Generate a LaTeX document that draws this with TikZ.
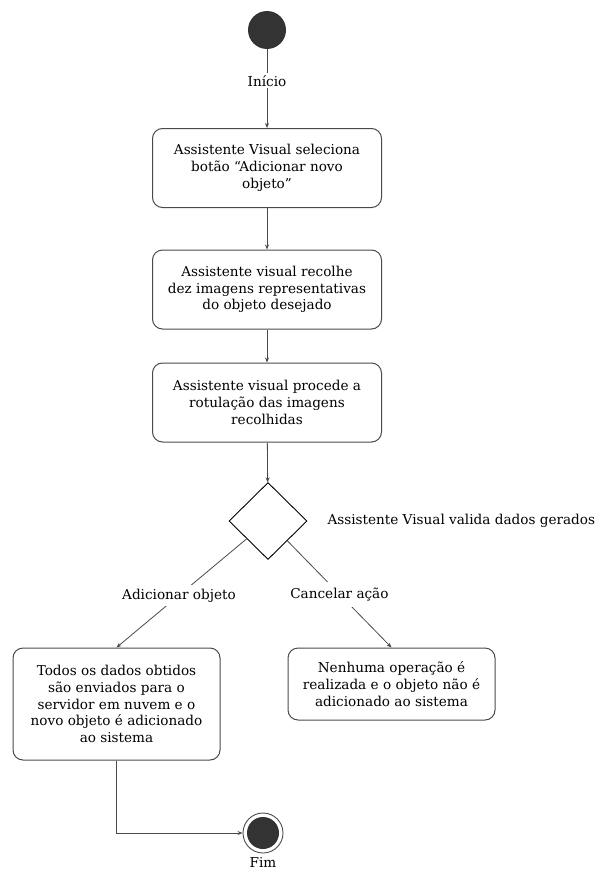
\documentclass[tikz,border=0pt]{standalone}
\usepackage{fontspec}
\setmainfont{DejaVu Serif}
\usetikzlibrary{shapes.geometric,arrows.meta}
\definecolor{linecol}{HTML}{4A4A4A}
\definecolor{dotcol}{HTML}{333333}
\begin{document}
\begin{tikzpicture}[x=1pt,y=-1pt,
  font=\fontsize{13.6}{16.8}\selectfont,
  action/.style={draw=linecol,line width=1pt,rounded corners=10pt,fill=white,
    align=center,inner sep=0pt},
  flow/.style={draw=linecol,line width=0.8pt,-{Stealth[length=5pt,width=4pt]}},
  lbl/.style={fill=white,inner sep=2pt},
]
\useasboundingbox (0,0) rectangle (603,870);

% initial and final states
\node[circle,fill=dotcol,minimum size=38pt,inner sep=0pt] (start) at (267,30) {};
\node[circle,draw=linecol,line width=0.9pt,fill=white,minimum size=40pt,inner sep=0pt] (stop) at (263,833) {};
\fill[dotcol] (stop.center) circle (16pt);
\node (fim) at (263,862) {Fim};

% actions
\node[action,minimum width=229pt,minimum height=79pt] (b1) at (267,168)
  {Assistente Visual seleciona\\botão “Adicionar novo\\objeto”};
\node[action,minimum width=229pt,minimum height=79pt] (b2) at (267,289.5)
  {Assistente visual recolhe\\dez imagens representativas\\do objeto desejado};
\node[action,minimum width=229pt,minimum height=79pt] (b3) at (267,402.5)
  {Assistente visual procede a\\rotulação das imagens\\recolhidas};
\node[action,minimum width=207pt,minimum height=112pt] (b4) at (116.5,704)
  {Todos os dados obtidos\\são enviados para o\\servidor em nuvem e o\\novo objeto é adicionado\\ao sistema};
\node[action,minimum width=207pt,minimum height=72pt] (b5) at (391.5,684)
  {Nenhuma operação é\\realizada e o objeto não é\\adicionado ao sistema};

% decision
\node[diamond,draw=black,line width=0.9pt,fill=white,minimum width=78pt,minimum height=77pt,inner sep=0pt,aspect=1] (dec) at (268,521) {};
\node[anchor=west] (declbl) at (324,521) {Assistente Visual valida dados gerados};

% connectors
\draw[flow] (start) -- node[lbl,pos=0.4] {Início} (b1);
\draw[flow] (b1) -- (b2);
\draw[flow] (b2) -- (b3);
\draw[flow] (b3) -- (dec);
\draw[flow] (dec) -- node[lbl,pos=0.52,inner sep=4pt] {Adicionar objeto} (b4.north);
\draw[flow] (dec) -- node[lbl,pos=0.5,inner sep=6pt] {Cancelar ação} (b5.north);
\draw[flow] (b4.south) |- (stop.west);
\end{tikzpicture}
\end{document}
